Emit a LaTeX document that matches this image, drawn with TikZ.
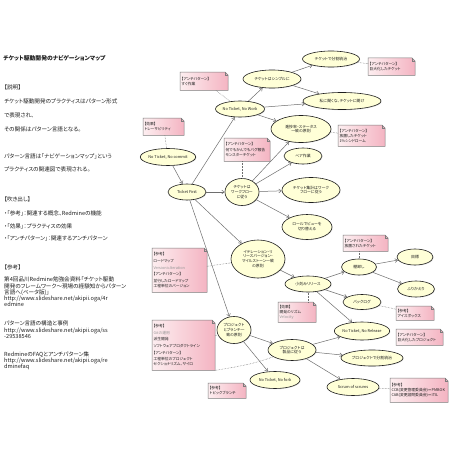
\documentclass[tikz,border=0pt]{standalone}
\usepackage{fontspec}
\setmainfont{Noto Sans CJK JP}[RawFeature=+palt]
\newfontfamily\djv{DejaVu Sans}
\usetikzlibrary{shapes.geometric,arrows.meta,shadows}
\pgfdeclarelayer{bg}
\pgfsetlayers{bg,main}
\definecolor{ellfill}{RGB}{255,255,215}
\definecolor{ellline}{RGB}{30,30,30}
\definecolor{notel}{RGB}{253,238,240}
\definecolor{noter}{RGB}{244,180,194}
\definecolor{notebd}{RGB}{125,125,125}
\definecolor{arr}{RGB}{110,110,110}
\definecolor{txt}{RGB}{30,30,30}
\definecolor{lnk}{RGB}{150,150,150}
\tikzset{
  ell/.style={ellipse, draw=ellline, line width=0.6pt, fill=ellfill, inner sep=0pt, align=center,
    font=\fontsize{3.9}{4.9}\selectfont, text=txt,
    drop shadow={shadow xshift=0.7pt, shadow yshift=-0.7pt, opacity=0.22}},
  notetext/.style={rectangle, inner sep=1.3pt, align=left, anchor=north west, text=txt,
    font=\fontsize{3.8}{5.2}\selectfont},
  arrowline/.style={draw=arr, line width=0.5pt, -{Straight Barb[length=2.6pt,width=3.8pt]}},
  dotline/.style={draw=arr, line width=0.5pt, densely dotted},
  lefttext/.style={anchor=west, inner sep=0pt, text=txt, font=\fontsize{5.6}{6.5}\selectfont},
  reftext/.style={anchor=north west, inner sep=0pt, text=txt, align=left, font=\fontsize{5.6}{6.2}\selectfont}
}
% name, x, y (top-left), text width, height, text
\newcommand{\mknote}[6]{%
  \node[notetext, text width=#4pt, minimum height=#5pt] (#1) at (#2,#3) {#6};
  \begin{pgfonlayer}{bg}
  \shade[left color=notel, right color=noter, draw=notebd, line width=0.5pt]
    (#1.north west) -- ([xshift=-3pt]#1.north east) -- ([yshift=-3pt]#1.north east)
    -- (#1.south east) -- (#1.south west) -- cycle;
  \draw[notebd, line width=0.4pt] ([xshift=-3pt]#1.north east) |- ([yshift=-3pt]#1.north east);
  \end{pgfonlayer}
}
\begin{document}
\begin{tikzpicture}[x=1pt,y=-1pt]
\useasboundingbox (0,0) rectangle (452,452);
\begin{pgfonlayer}{bg}
\fill[white] (0,0) rectangle (452,452);
\end{pgfonlayer}

% ---------- left text ----------
\node[lefttext, font=\fontsize{5.8}{6.5}\selectfont\bfseries] (title) at (3,58) {チケット駆動開発のナビゲーションマップ};
\node[lefttext] (l1) at (4,87) {【説明】};
\node[lefttext] (l2) at (4,101.5) {チケット駆動開発のプラクティスはパターン形式};
\node[lefttext] (l3) at (4,115) {で表現され、};
\node[lefttext] (l4) at (4,129) {その関係はパターン言語となる。};
\node[lefttext] (l5) at (4,156.5) {パターン言語は「ナビゲーションマップ」という};
\node[lefttext] (l6) at (4,169) {プラクティスの関連図で表現される。};
\node[lefttext] (l7) at (4,199) {【吹き出し】};
\node[lefttext] (l8) at (4,213) {・「参考」：関連する概念、Redmineの機能};
\node[lefttext] (l9) at (4,226) {・「効果」：プラクティスの効果};
\node[lefttext] (l10) at (4,238.5) {・「アンチパターン」：関連するアンチパターン};
\node[lefttext] (l11) at (4,267) {【参考】};
\node[reftext] (r1) at (4,277) {第4回品川Redmine勉強会資料「チケット駆動\\開発のフレームワーク〜現場の経験知からパターン\\言語へ(ベータ版)」\\http://www.slideshare.net/akipii.oga/4r\\edmine};
\node[reftext] (r2) at (4,321) {パターン言語の構造と事例\\http://www.slideshare.net/akipii.oga/ss\\-29538546};
\node[reftext] (r3) at (4,351.5) {RedmineのFAQとアンチパターン集\\http://www.slideshare.net/akipii.oga/re\\dminefaq};

% ---------- ellipses ----------
\node[ell, minimum width=48pt, minimum height=16pt] (nwork) at (240,109) {No Ticket, No Work};
\node[ell, minimum width=58pt, minimum height=18pt] (simple) at (272,79) {チケットはシンプルに};
\node[ell, minimum width=57pt, minimum height=16pt] (bunkatsu) at (331,59) {チケットで分割統治};
\node[ell, minimum width=78pt, minimum height=17pt] (kiku) at (342,101) {私に聞くな、チケットに聞け};
\node[ell, minimum width=60pt, minimum height=27pt] (shinchoku) at (301,129) {進捗率・ステータス\\一致の原則};
\node[ell, minimum width=38pt, minimum height=16pt] (pair) at (303,156) {ペア作業};
\node[ell, minimum width=55pt, minimum height=17pt] (ncommit) at (168,157) {No Ticket, No commit};
\node[ell, minimum width=38pt, minimum height=16pt] (tfirst) at (187,192) {Ticket First};
\node[ell, minimum width=34pt, minimum height=27pt] (wflow) at (242,192) {チケットは\\ワークフロー\\に従う};
\node[ell, minimum width=58pt, minimum height=25pt] (shukei) at (311,190) {チケット集計はワーク\\フローに従う};
\node[ell, minimum width=50pt, minimum height=25pt] (role) at (307,227) {ロールでビューを\\切り替える};
\node[ell, minimum width=54pt, minimum height=38pt] (iter) at (258,259) {イテレーション・リ\\リースバージョン・\\マイルストーン一致\\の原則};
\node[ell, minimum width=46pt, minimum height=16pt] (kizami) at (308,284) {小刻みリリース};
\node[ell, minimum width=35pt, minimum height=16pt] (tana) at (359,267) {棚卸し};
\node[ell, minimum width=36pt, minimum height=16pt] (mokuhyo) at (415,257) {目標};
\node[ell, minimum width=37pt, minimum height=16pt] (furi) at (416,289) {ふりかえり};
\node[ell, minimum width=38pt, minimum height=15pt] (backlog) at (362,302) {バックログ};
\node[ell, minimum width=55pt, minimum height=18pt] (nrelease) at (362,331) {No Ticket, No Release};
\node[ell, minimum width=34pt, minimum height=27pt] (branch) at (234,330) {プロジェクト\\とブランチ一\\致の原則};
\node[ell, minimum width=48pt, minimum height=21pt] (seihin) at (292,350) {プロジェクトは\\製品に従う};
\node[ell, minimum width=62pt, minimum height=16pt] (pbunkatsu) at (372,358) {プロジェクトで分割統治};
\node[ell, minimum width=52pt, minimum height=17pt] (scrum) at (353,387) {Scrum of scrums};
\node[ell, minimum width=50pt, minimum height=17pt] (nfork) at (275,380) {No Ticket, No fork};

% ---------- notes ----------
\mknote{nsugu}{180}{72}{45}{18}{【アンチパターン】\\すぐ作業}
\mknote{ntrace}{143}{118}{38}{17}{【効果】\\トレーサビリティ}
\mknote{nmonster}{224}{138}{43}{23}{【アンチパターン】\\何でもかんでもバグ報告\\モンスターチケット}
\mknote{nkyodai}{368}{58}{44}{17}{【アンチパターン】\\巨大化したチケット}
\mknote{nhouchi}{338}{125}{44}{21}{【アンチパターン】\\放置したチケット\\1\%シンドローム}
\mknote{nroad}{152}{248}{52}{44}{\fontsize{3.8}{6.6}\selectfont【参考】\\ロードマップ\\\textcolor{lnk}{Version{\djv ≒}Iteration}\\【アンチパターン】\\並行したロードマップ\\工程単位のバージョン}
\mknote{nrhythm}{278}{302}{35}{20}{【効果】\\開発のリズム\\\textcolor{lnk}{Velocity}}
\mknote{nhouchi2}{343}{235}{42}{16}{【アンチパターン】\\放置されたチケット}
\mknote{nice}{396}{306}{35}{14}{【参考】\\アイスボックス}
\mknote{nkyodaip}{396}{329}{44}{16}{【アンチパターン】\\巨大化したプロジェクト}
\mknote{nhasei}{152}{320}{60}{50}{\fontsize{3.8}{6.6}\selectfont【参考】\\\textcolor{lnk}{Gitの運用}\\派生開発\\ソフトウェアプロダクトライン\\【アンチパターン】\\工程単位のプロジェクト\\セクショナリズム、サイロ}
\mknote{ntopic}{208}{383}{35}{15}{【参考】\\トピックブランチ}
\mknote{nccb}{390}{378}{55}{24}{【参考】\\CCB(変更管理委員会)＝PMBOK\\CAB(変更諮問委員会)＝ITIL}

% ---------- arrows ----------
\draw[arrowline] (tfirst) -- (nwork);
\draw[arrowline] (nwork) -- (simple);
\draw[arrowline] (nwork) -- (shinchoku);
\draw[arrowline] (nwork) -- (kiku);
\draw[arrowline] (simple) -- (bunkatsu);
\draw[arrowline] (simple) -- (kiku);
\draw[arrowline] (ncommit) -- (tfirst);
\draw[arrowline] (tfirst) -- (wflow);
\draw[arrowline] (tfirst) -- (iter);
\draw[arrowline] (tfirst) -- (branch);
\draw[arrowline] (wflow) -- (pair);
\draw[arrowline] (wflow) -- (shinchoku);
\draw[arrowline] (wflow) -- (shukei);
\draw[arrowline] (wflow) -- (role);
\draw[arrowline] (iter) -- (kizami);
\draw[arrowline] (kizami) -- (tana);
\draw[arrowline] (kizami) -- (backlog);
\draw[arrowline] (kizami) -- (nrelease);
\draw[arrowline] (tana) -- (mokuhyo);
\draw[arrowline] (tana) -- (furi);
\draw[arrowline] (branch) -- (seihin);
\draw[arrowline] (branch) -- (nfork);
\draw[arrowline] (seihin) -- (nrelease);
\draw[arrowline] (seihin) -- (pbunkatsu);
\draw[arrowline] (seihin) -- (scrum);

% ---------- dotted note links ----------
\draw[dotline] (nsugu) -- (nwork);
\draw[dotline] (ntrace) -- (ncommit);
\draw[dotline] (nmonster.south -| wflow) -- (wflow);
\draw[dotline] (nkyodai) -- (bunkatsu);
\draw[dotline] (nhouchi) -- (shinchoku);
\draw[dotline] (nroad) -- (iter);
\draw[dotline] (nrhythm.north -| kizami) -- (kizami);
\draw[dotline] (nhouchi2.south -| tana) -- (tana);
\draw[dotline] (nice) -- (backlog);
\draw[dotline] (nhasei) -- (branch);
\draw[dotline] (nhasei.south east) to[out=10,in=200] (seihin);
\draw[dotline] (nccb) -- (scrum);
\end{tikzpicture}
\end{document}
